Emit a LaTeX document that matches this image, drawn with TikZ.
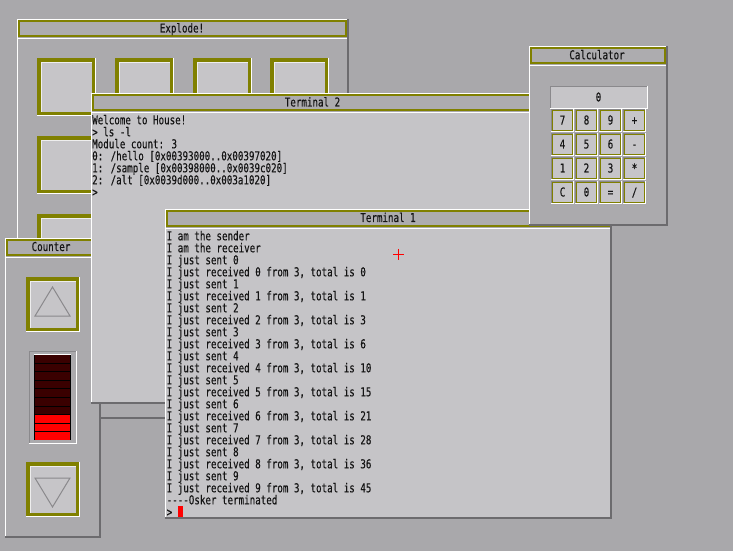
\documentclass[tikz,border=0pt]{standalone}
\usepackage{fontspec}
\newfontfamily\termfont[FakeStretch=0.75,FakeBold=0.35,Ligatures=TeXOff]{DejaVu Sans Mono}

\definecolor{desk}{HTML}{A9A8AB}
\definecolor{panel}{HTML}{ABAAAD}
\definecolor{screen}{HTML}{C5C4C7}
\definecolor{keyface}{HTML}{C6C5C8}
\definecolor{barfill}{HTML}{ADACAF}
\definecolor{rim}{HTML}{808000}
\definecolor{shadowline}{HTML}{6C6B6E}
\definecolor{edge}{HTML}{8A898C}
\definecolor{ledoff}{HTML}{3A0000}
\definecolor{ledon}{HTML}{FF0000}
\definecolor{ink}{HTML}{141414}

\tikzset{
  mono/.style={font=\termfont\fontsize{12.3}{12}\selectfont, text=ink, inner sep=0pt},
  termline/.style={mono, anchor=base west},
  caption/.style={mono, anchor=base},
  arrowmark/.style={draw=edge, line width=1bp},
}

% window frame: x1 y1 x2 y2 body colour
\newcommand\guiwin[5]{%
  \fill[panel] (#1,#2) rectangle (#3,#4);
  \fill[#5] (#1+1,#2+20) rectangle (#3-2,#4-2);
  \draw[white,line width=1bp] (#1+0.5,#4-2) -- (#1+0.5,#2+0.5) -- (#3-2,#2+0.5);
  \draw[white,line width=1bp] (#1+1,#2+19.5) -- (#3-2,#2+19.5);
  \draw[shadowline,line width=2bp] (#3-1,#2) -- (#3-1,#4-1) -- (#1,#4-1);
  \draw[rim,line width=2bp,fill=barfill] (#1+2,#2+2) rectangle (#3-3,#2+17);
}

% large push button with a thick olive rim: x y w h
\newcommand\bigkey[4]{%
  \fill[rim] (#1,#2) rectangle (#1+#3,#2+#4);
  \draw[white,line width=1bp] (#1+#3-0.5,#2) -- (#1+#3-0.5,#2+#4-0.5) -- (#1,#2+#4-0.5);
  \fill[keyface] (#1+4,#2+4) rectangle (#1+#3-4,#2+#4-4);
  \draw[white!70!keyface,line width=1bp] (#1+4.5,#2+#4-4) -- (#1+4.5,#2+4.5) -- (#1+#3-4,#2+4.5);
}

% small calculator key: x y
\newcommand\calckey[2]{%
  \draw[edge,line width=1bp] (#1-0.5,#2+21) -- (#1-0.5,#2-0.5) -- (#1+21,#2-0.5);
  \draw[white,line width=1bp] (#1+21.5,#2-1) -- (#1+21.5,#2+21.5) -- (#1-1,#2+21.5);
  \draw[rim,line width=1.2bp,fill=keyface] (#1+0.6,#2+0.6) rectangle (#1+20.4,#2+20.4);
}

\begin{document}
\begin{tikzpicture}[x=1bp,y=-1bp]
\useasboundingbox (0,0) rectangle (733,551);
\fill[desk] (0,0) rectangle (733,551);

% ---------------- Explode! ----------------
\guiwin{17}{19}{349}{419}{panel}
\node[caption] (explode-title) at (182,32.5) {Explode!};
\foreach \cx in {37,115,193,270}
  \foreach \cy in {58,136,214} {\bigkey{\cx}{\cy}{59}{58}}

% ---------------- Counter ----------------
\guiwin{5}{238}{101}{538}{panel}
\node[caption] (counter-title) at (51,251) {Counter};
\bigkey{26}{277}{54}{55}
\draw[arrowmark] (52.5,287) -- (70,316) -- (35,316) -- cycle;
\bigkey{26}{462}{54}{55}
\draw[arrowmark] (35,478) -- (70,478) -- (52.5,507) -- cycle;
% level meter
\draw[edge,line width=1bp] (29.5,443) -- (29.5,351.5) -- (76,351.5);
\draw[white,line width=1bp] (76.5,351) -- (76.5,443.5) -- (29,443.5);
\fill[black] (34,354) rectangle (71,440);
\foreach \k in {0,...,9} {
  \pgfmathsetmacro\segtop{354+8.6*\k}
  \ifnum\k<7 \def\segcol{ledoff}\else\def\segcol{ledon}\fi
  \fill[\segcol] (35,\segtop+1) rectangle (70,\segtop+8.6);
}
\draw[white,line width=1bp] (34,354.5) -- (71,354.5);

% ---------------- Terminal 2 ----------------
\guiwin{91}{93}{534}{404}{screen}
\node[caption] (t2-title) at (312.5,106.5) {Terminal 2};
\node[termline] (t2-1) at (92,124.3) {Welcome to House!};
\node[termline] (t2-2) at (92,136.3) {> ls -l};
\node[termline] (t2-3) at (92,148.3) {Module count: 3};
\node[termline] (t2-4) at (92,160.3) {0: /hello [0x00393000..0x00397020]};
\node[termline] (t2-5) at (92,172.3) {1: /sample [0x00398000..0x0039c020]};
\node[termline] (t2-6) at (92,184.3) {2: /alt [0x0039d000..0x003a1020]};
\node[termline] (t2-7) at (92,196.3) {>};

% ---------------- Terminal 1 ----------------
\guiwin{165}{209}{612}{519}{screen}
\node[caption] (t1-title) at (388,222) {Terminal 1};
\node[termline] (t1-1) at (166.5,240.3) {I am the sender};
\node[termline] (t1-2) at (166.5,252.3) {I am the receiver};
\foreach \k in {0,...,9} {
  \pgfmathsetmacro\ysent{264.3+24*\k}
  \pgfmathtruncatemacro\tot{\k*(\k+1)/2}
  \node[termline] (sent-\k) at (166.5,\ysent) {I just sent \k};
  \node[termline] (recv-\k) at (166.5,\ysent+12) {I just received \k{} from 3, total is \tot};
}
\node[termline] (t1-end) at (166.5,504.3) {----Osker terminated};
\node[termline] (t1-prompt) at (166.5,516.3) {>};
\fill[ledon] (177.5,506) rectangle (183,517.3);

% ---------------- Calculator ----------------
\guiwin{529}{46}{668}{226}{panel}
\node[caption] (calc-title) at (597,59.3) {Calculator};
\draw[edge,line width=1bp] (550.5,108) -- (550.5,86.5) -- (647,86.5);
\draw[white,line width=1bp] (647.5,86) -- (647.5,108.5) -- (550,108.5);
\fill[keyface] (551,87) rectangle (647,108);
\node[caption] (calc-display) at (598.5,101.5) {0};
\foreach \lab [count=\n from 0] in {7,8,9,+,4,5,6,-,1,2,3,*,C,0,=,/} {
  \pgfmathtruncatemacro\col{mod(\n,4)}
  \pgfmathtruncatemacro\row{div(\n,4)}
  \pgfmathsetmacro\kx{552+24*\col}
  \pgfmathsetmacro\ky{110+24*\row}
  \calckey{\kx}{\ky}
  \node[caption] (key-\n) at (\kx+10.5,\ky+14.5) {\lab};
}

% mouse pointer
\draw[ledon,line width=1bp] (393,254.5) -- (404,254.5) (398.5,249) -- (398.5,260);
\end{tikzpicture}
\end{document}
